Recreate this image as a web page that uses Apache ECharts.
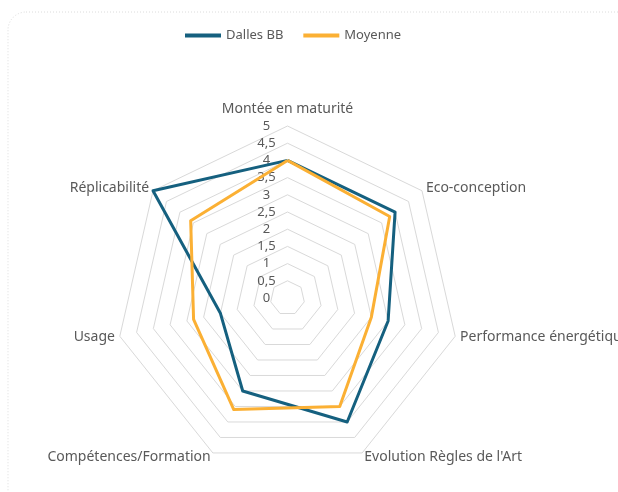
<!DOCTYPE html>
<html>
<head>
<meta charset="utf-8">
<script src="https://cdn.jsdelivr.net/npm/echarts@6/dist/echarts.min.js"></script>
<style>
  html, body { margin: 0; padding: 0; background: #fff; }
  #main { width: 618px; height: 492px; }
</style>
</head>
<body>
<div id="main"></div>
<script>
  // axes of the radar, clockwise from the top
  var indicators = ['Montée en maturité', 'Eco-conception', 'Performance énergétique',
    'Evolution Règles de l\'Art', 'Compétences/Formation', 'Usage', 'Réplicabilité']
  var seriesNames = ['Dalles BB', 'Moyenne']
  var dallesBB = [4, 4, 3, 4, 3, 2, 5]
  var moyenne = [4, 3.8, 2.5, 3.5, 3.6, 2.8, 3.6]
  var scaleMax = 5

  var textColor = '#595959'
  var font = 'Noto Sans'

  // echarts lays radar axes counter-clockwise, so keep the first one on top
  // and walk the others backwards
  var order = [0]
  for (var k = indicators.length - 1; k > 0; k--) order.push(k)
  function reorder(arr) { return order.map(function (i) { return arr[i] }) }

  var chart = echarts.init(document.getElementById('main'))

  var indicatorList = order.map(function (i) {
    var item = { name: indicators[i], max: scaleMax, min: 0, nameGap: i === 0 ? 10 : 5 }
    if (i === 0) {
      item.axisLabel = { show: true }
    }
    return item
  })

  chart.setOption({
    backgroundColor: '#fff',
    animation: false,
    graphic: [{
      type: 'rect',
      shape: { x: 8, y: 12, width: 640, height: 520, r: 18 },
      style: { fill: 'none', stroke: '#dcdcdc', lineWidth: 1, lineDash: [1, 2] },
      silent: true
    }],
    legend: {
      top: 24,
      left: 180,
      data: seriesNames,
      icon: 'rect',
      itemWidth: 36,
      itemHeight: 4,
      itemGap: 20,
      textStyle: { color: textColor, fontFamily: font, fontSize: 13 }
    },
    radar: {
      center: [287.5, 298],
      radius: 172,
      startAngle: 90,
      splitNumber: 10,
      shape: 'polygon',
      axisName: { color: textColor, fontFamily: font, fontSize: 14 },
      axisLine: { show: false },
      axisTick: { show: false },
      splitArea: { show: false },
      splitLine: { lineStyle: { color: '#d9d9d9', width: 1 } },
      axisLabel: {
        show: false,
        color: textColor,
        fontFamily: font,
        fontSize: 13,
        margin: 21,
        align: 'center',
        formatter: function (v) { return String(v).replace('.', ',') }
      },
      indicator: indicatorList
    },
    series: [{
      type: 'radar',
      symbol: 'none',
      data: [
        { name: seriesNames[0], value: reorder(dallesBB),
          lineStyle: { color: '#15607f', width: 3 }, itemStyle: { color: '#15607f' } },
        { name: seriesNames[1], value: reorder(moyenne),
          lineStyle: { color: '#fbb034', width: 3 }, itemStyle: { color: '#fbb034' } }
      ]
    }]
  })
</script>
</body>
</html>
